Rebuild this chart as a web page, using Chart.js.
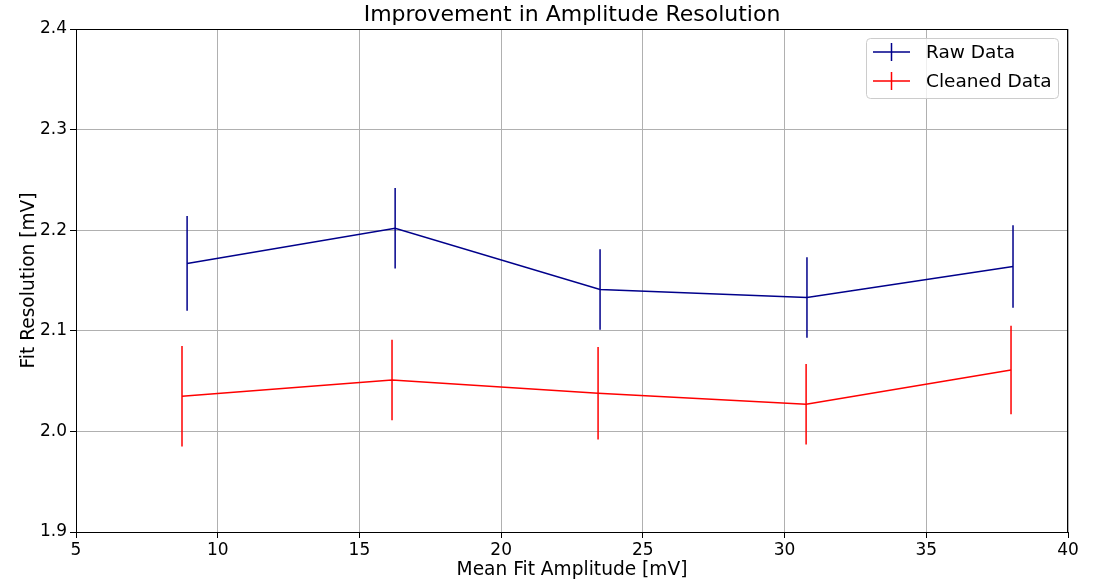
<!DOCTYPE html>
<html>
<head>
<meta charset="utf-8">
<script src="https://cdn.jsdelivr.net/npm/chart.js@4.4.0/dist/chart.umd.min.js"></script>
<style>
  html, body { margin: 0; padding: 0; background: #fff; }
  #wrap { width: 1093px; height: 581px; }
</style>
</head>
<body>
<div id="wrap"><canvas id="chart" width="1093" height="581"></canvas></div>
<script>
// values
const rawX = [8.92, 16.26, 23.49, 30.79, 38.06];
const rawY = [2.167, 2.202, 2.141, 2.133, 2.164];
const rawErr = [0.047, 0.040, 0.040, 0.040, 0.041];

const cleanX = [8.74, 16.15, 23.42, 30.76, 37.99];
const cleanY = [2.035, 2.051, 2.038, 2.027, 2.061];
const cleanErr = [0.050, 0.040, 0.046, 0.040, 0.044];

const xTicks = [5, 10, 15, 20, 25, 30, 35, 40];
const yTicks = [1.9, 2.0, 2.1, 2.2, 2.3, 2.4];

const TITLE = 'Improvement in Amplitude Resolution';
const FONT = "'DejaVu Sans', sans-serif";

const toPoints = (xs, ys, es) => xs.map((x, i) => ({ x, y: ys[i], err: es[i] }));

/**
 * Vertical error bars, frame, title over the plot and an in-plot legend.
 */
const errorBars = {
    id: 'errorBars',
    afterDatasetsDraw(chart) {
        const { ctx, scales: { x, y } } = chart;
        ctx.save();
        chart.data.datasets.forEach(ds => {
            ctx.strokeStyle = ds.borderColor;
            ctx.lineWidth = 1.5;
            ds.data.forEach(p => {
                const px = x.getPixelForValue(p.x);
                ctx.beginPath();
                ctx.moveTo(px, y.getPixelForValue(p.y - p.err));
                ctx.lineTo(px, y.getPixelForValue(p.y + p.err));
                ctx.stroke();
            });
        });
        ctx.restore();
    },
    afterDraw(chart) {
        const { ctx, chartArea: a } = chart;
        ctx.save();
        // frame
        ctx.strokeStyle = '#000';
        ctx.lineWidth = 1;
        ctx.strokeRect(a.left + 0.5, a.top + 0.5, a.right - a.left - 1, a.bottom - a.top);

        // title, centred on the plot area
        ctx.fillStyle = '#000';
        ctx.font = '22px ' + FONT;
        ctx.textAlign = 'center';
        ctx.textBaseline = 'middle';
        ctx.fillText(TITLE, (a.left + a.right) / 2, 15);

        // legend
        const bx = 866, by = 38, bw = 192, bh = 60;
        ctx.fillStyle = 'rgba(255,255,255,0.8)';
        ctx.strokeStyle = '#cccccc';
        ctx.beginPath();
        ctx.roundRect(bx + 0.5, by + 0.5, bw, bh, 4);
        ctx.fill();
        ctx.stroke();
        ctx.font = '18.5px ' + FONT;
        ctx.textAlign = 'left';
        chart.data.datasets.forEach((ds, i) => {
            const cy = 52 + i * 29;
            ctx.strokeStyle = ds.borderColor;
            ctx.lineWidth = 1.5;
            ctx.beginPath();
            ctx.moveTo(873, cy);
            ctx.lineTo(910, cy);
            ctx.moveTo(891.5, cy - 9);
            ctx.lineTo(891.5, cy + 9);
            ctx.stroke();
            ctx.fillStyle = '#000';
            ctx.fillText(ds.label, 926, cy + 1);
        });
        ctx.restore();
    }
};

new Chart(document.getElementById('chart'), {
    type: 'line',
    data: {
        datasets: [
            {
                label: 'Raw Data',
                data: toPoints(rawX, rawY, rawErr),
                borderColor: '#00008b',
                borderWidth: 1.5,
                pointRadius: 0,
                tension: 0
            },
            {
                label: 'Cleaned Data',
                data: toPoints(cleanX, cleanY, cleanErr),
                borderColor: '#ff0000',
                borderWidth: 1.5,
                pointRadius: 0,
                tension: 0
            }
        ]
    },
    options: {
        responsive: false,
        animation: false,
        layout: { padding: { left: 0, right: 25, top: 29, bottom: 0 } },
        plugins: {
            legend: { display: false },
            tooltip: { enabled: false },
            title: { display: false }
        },
        scales: {
            x: {
                type: 'linear',
                min: 5,
                max: 40,
                afterBuildTicks: s => { s.ticks = xTicks.map(v => ({ value: v })); },
                afterFit: s => { s.height = 49; },
                grid: { color: '#b0b0b0', tickColor: '#000', tickLength: 6 },
                border: { display: false },
                ticks: { color: '#000', font: { family: FONT, size: 17 }, padding: 2, maxRotation: 0 },
                title: {
                    display: true,
                    text: 'Mean Fit Amplitude [mV]',
                    color: '#000',
                    font: { family: FONT, size: 18.6 },
                    padding: { top: 0, bottom: 0 }
                }
            },
            y: {
                type: 'linear',
                min: 1.9,
                max: 2.4,
                afterBuildTicks: s => { s.ticks = yTicks.map(v => ({ value: v })); },
                afterFit: s => { s.width = 76; },
                grid: { color: '#b0b0b0', tickColor: '#000', tickLength: 6 },
                border: { display: false },
                ticks: {
                    color: '#000',
                    font: { family: FONT, size: 17 },
                    padding: 3,
                    callback: v => v.toFixed(1)
                },
                title: {
                    display: true,
                    text: 'Fit Resolution [mV]',
                    color: '#000',
                    font: { family: FONT, size: 18.6 },
                    padding: { top: 18, bottom: 0 }
                }
            }
        }
    },
    plugins: [errorBars]
});
</script>
</body>
</html>
